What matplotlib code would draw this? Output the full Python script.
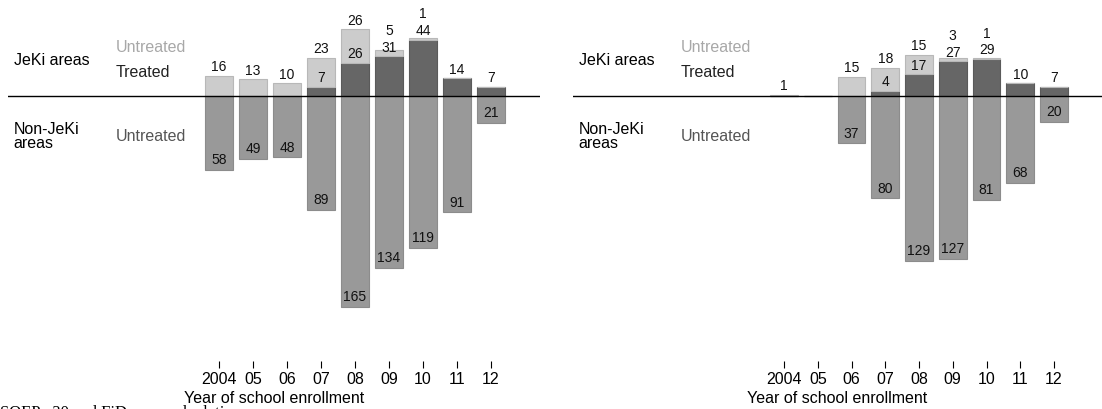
import matplotlib
matplotlib.use("Agg")
import matplotlib.pyplot as plt
from matplotlib.transforms import blended_transform_factory
import numpy as np

plt.rcParams['font.family'] = ['Liberation Sans', 'DejaVu Sans']

years = np.arange(2004, 2013)
year_labels = ['2004', '05', '06', '07', '08', '09', '10', '11', '12']

# left panel
left_treated = [0, 0, 0, 7, 26, 31, 44, 14, 7]
left_untreated = [16, 13, 10, 23, 26, 5, 1, 0, 0]
left_nonjeki = [58, 49, 48, 89, 165, 134, 119, 91, 21]

# right panel
right_treated = [0, 0, 0, 4, 17, 27, 29, 10, 7]
right_untreated = [1, 0, 15, 18, 15, 3, 1, 0, 0]
right_nonjeki = [0, 0, 37, 80, 129, 127, 81, 68, 20]

c_untr = '#cccccc'
c_tr = '#666666'
c_non = '#999999'

fig = plt.figure(figsize=(11.02, 4.10), dpi=100)

px = 1.28  # pixels per unit
ytop = 97 / px
ybot = -(410 - 97) / px


def labels(ax):
    t = blended_transform_factory(ax.transAxes, ax.transData)
    ax.text(0.011, 28.9, 'JeKi areas', transform=t, fontsize=11.5, va='center', ha='left')
    ax.text(0.011, -31, 'Non-JeKi\nareas', transform=t, fontsize=11.5, va='center',
            ha='left', linespacing=0.95)
    ax.text(0.203, 39, 'Untreated', transform=t, fontsize=11.5, va='center',
            ha='left', color='#a8a8a8')
    ax.text(0.203, 19.5, 'Treated', transform=t, fontsize=11.5, va='center',
            ha='left', color='#222222')
    ax.text(0.203, -30.5, 'Untreated', transform=t, fontsize=11.5, va='center',
            ha='left', color='#555555')


def panel(x0, x1, x2004, step, treated, untreated, nonjeki):
    ax = fig.add_axes([x0 / 1102, 0, (x1 - x0) / 1102, 1])
    ax.set_xlim(2004 - (x2004 - x0) / step, 2004 + (x1 - x2004) / step)
    treated = np.array(treated)
    untreated = np.array(untreated)
    nonjeki = np.array(nonjeki)
    w = 0.82
    ax.bar(years, treated, w, color=c_tr, edgecolor='#5a5a5a', linewidth=0.8, zorder=2)
    ax.bar(years, untreated, w, bottom=treated, color=c_untr, edgecolor='#b8b8b8',
           linewidth=0.8, zorder=2)
    ax.bar(years, -nonjeki, w, color=c_non, edgecolor='#8c8c8c', linewidth=0.8, zorder=2)
    ax.axhline(0, color='black', linewidth=1.0, zorder=3)

    for x, t, u, n in zip(years, treated, untreated, nonjeki):
        if t > 0:
            ax.text(x, t + 2, str(t), ha='center', va='bottom', fontsize=10, color='#111111')
        if u > 0:
            yu = t + u + 2
            if t > 0:
                yu = max(yu, t + 2 + 13)
            ax.text(x, yu, str(u), ha='center', va='bottom', fontsize=10, color='#111111')
        if n > 0:
            ax.text(x, -n + 3, str(n), ha='center', va='bottom', fontsize=10, color='#111111')

    ax.set_ylim(ybot, ytop)
    ax.set_yticks([])
    for s in ['left', 'right', 'top', 'bottom']:
        ax.spines[s].set_visible(False)
    ax.spines['bottom'].set_position(('data', -(362 - 97) / px))
    ax.set_xticks(years)
    ax.set_xticklabels(year_labels)
    ax.tick_params(axis='x', direction='out', length=5, width=0.8, pad=2,
                   labelsize=11.5, color='black')
    ax.set_xlabel('Year of school enrollment', fontsize=11.5, labelpad=3)
    ax.patch.set_alpha(0)
    labels(ax)
    return ax


ax1 = panel(8, 540, 219, 34.0, left_treated, left_untreated, left_nonjeki)
ax2 = panel(573, 1102, 784, 33.75, right_treated, right_untreated, right_nonjeki)

fig.text(0.0, 5 / 410, 'SOEP v30 and FiD, own calculations.', ha='left', va='top',
         fontsize=12, family='Liberation Serif')

fig.savefig('out.png', dpi=100)
